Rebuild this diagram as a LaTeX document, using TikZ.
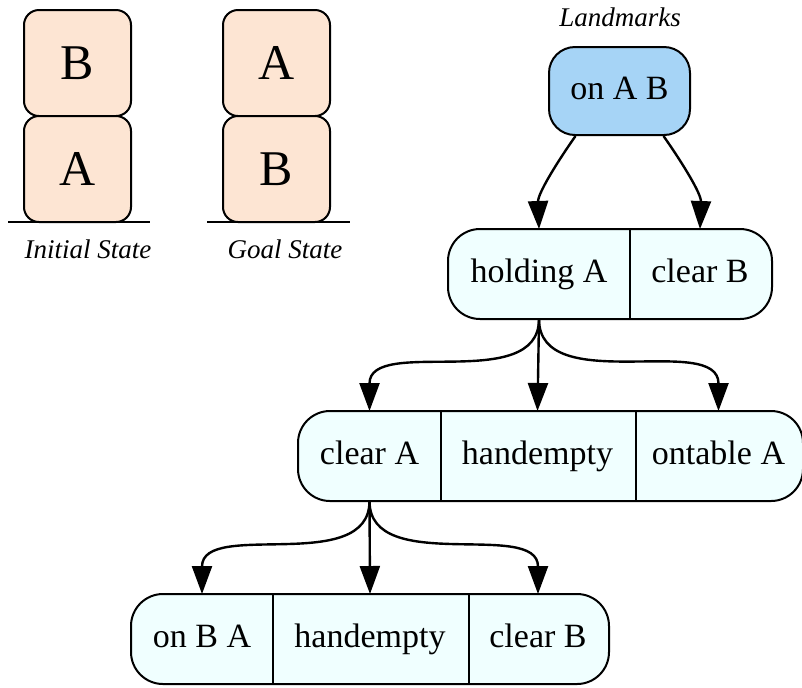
\documentclass[tikz,border=0pt]{standalone}
\usepackage{fontspec}
\setmainfont{Liberation Serif}
\usepackage{tikz}
\usetikzlibrary{arrows.meta,backgrounds}
\tikzset{>={Triangle[length=14pt,width=10pt]}}
\definecolor{blockfill}{RGB}{253,229,211}
\definecolor{goalfill}{RGB}{166,212,246}
\definecolor{factfill}{RGB}{240,255,255}

\begin{document}
\begin{tikzpicture}[x=0.5pt, y=0.5pt, line width=1pt,
		block/.style={rectangle, rounded corners=7.5pt, draw=black, fill=blockfill, minimum width=53.5pt, minimum height=53pt, font=\fontsize{25}{30}\selectfont},
		caption/.style={inner sep=0pt, font=\fontsize{13.5}{16}\selectfont\itshape},
		goal/.style={rectangle, rounded corners=13pt, draw=black, fill=goalfill, minimum width=70.5pt, minimum height=44pt, text height=11.5pt, text depth=3.5pt, font=\fontsize{17}{20}\selectfont},
		fact/.style={rectangle, inner sep=0pt, minimum height=44pt, text height=11.5pt, text depth=3.5pt, font=\fontsize{17}{20}\selectfont},
		factrow/.style={draw=black, line width=1pt, fill=factfill, rounded corners=16pt},
		link/.style={->, line width=1.2pt},
		ground/.style={draw=black}]
		\useasboundingbox (0,0) rectangle (802,-687);
		% blocks world states
		\node[block] (1) at (77.5,-63) {B};
		\node[block] (2) at (77.5,-169) {A};
		\node[block] (3) at (276.5,-63) {A};
		\node[block] (4) at (276.5,-169) {B};
		\draw[ground] (8,-222) -- (150,-222);
		\draw[ground] (207,-222) -- (350,-222);
		\node[caption] (5) at (88,-249) {Initial State};
		\node[caption] (6) at (285,-249) {Goal State};
		
		% landmark graph
		\node[caption] (7) at (620,-17) {Landmarks};
		\node[goal] (8) at (619.5,-91) {on A B};
		\node[fact, minimum width=90pt] (9) at (539,-274) {holding A};
		\node[fact, minimum width=71pt] (10) at (700,-274) {clear B};
		\node[fact, minimum width=70.5pt] (11) at (369.5,-456) {clear A};
		\node[fact, minimum width=97.5pt] (12) at (537.5,-456) {handempty};
		\node[fact, minimum width=83.5pt] (13) at (718.5,-456) {ontable A};
		\node[fact, minimum width=70pt] (14) at (202,-639) {on B A};
		\node[fact, minimum width=98pt] (15) at (370,-639) {handempty};
		\node[fact, minimum width=70pt] (16) at (538,-639) {clear B};
		\begin{scope}[on background layer]
			\draw[factrow] (9.north west) rectangle (10.south east);
			\draw[factrow] (11.north west) rectangle (13.south east);
			\draw[factrow] (14.north west) rectangle (16.south east);
		\end{scope}
		\draw (9.north east) -- (9.south east);
		\draw (11.north east) -- (11.south east);
		\draw (12.north east) -- (12.south east);
		\draw (14.north east) -- (14.south east);
		\draw (15.north east) -- (15.south east);
		
		\path ([xshift=-22pt]8.south) edge[link, out=-125, in=92, looseness=0.9] (9.north);
		\path ([xshift=22pt]8.south) edge[link, out=-55, in=88, looseness=0.9] (10.north);
		\path (9.south) edge[link, out=-90, in=90] (11.north);
		\path (9.south) edge[link] (12.north);
		\path (9.south) edge[link, out=-90, in=90] (13.north);
		\path (11.south) edge[link, out=-90, in=90] (14.north);
		\path (11.south) edge[link] (15.north);
		\path (11.south) edge[link, out=-90, in=90] (16.north);
		
	\end{tikzpicture}
\end{document}
